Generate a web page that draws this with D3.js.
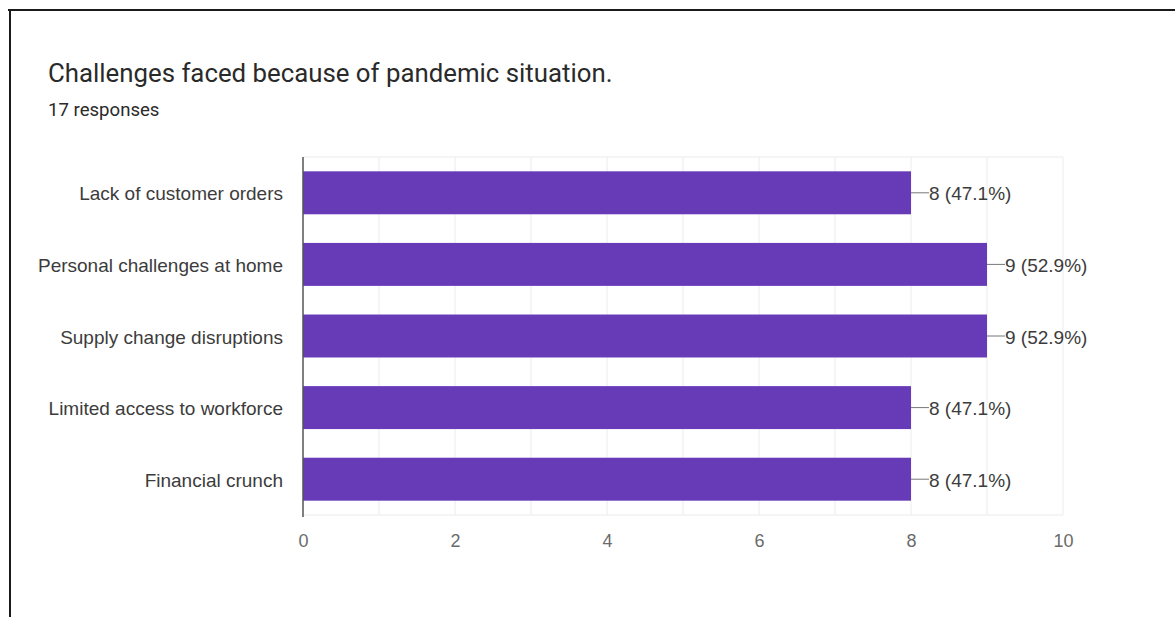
<!DOCTYPE html>
<html>
<head>
<meta charset="utf-8">
<script src="https://cdn.jsdelivr.net/npm/d3@7"></script>
<style>
  html, body { margin: 0; padding: 0; background: #fff; }
  svg { display: block; }
</style>
</head>
<body>
<svg id="chart" width="1175" height="617"></svg>
<script>
// Survey question: challenges faced during the pandemic (17 responses)
const categories = [
  "Lack of customer orders",
  "Personal challenges at home",
  "Supply change disruptions",
  "Limited access to workforce",
  "Financial crunch"
];
const counts = [8, 9, 9, 8, 8];
const totalResponses = 17;
const xTicks = [0, 2, 4, 6, 8, 10];
const gridValues = [1, 2, 3, 4, 5, 6, 7, 8, 9, 10];

const svg = d3.select("#chart");
const W = 1175, H = 617;

// Card frame: dark rule along the top and left edges
svg.append("line").attr("x1", 8).attr("x2", W).attr("y1", 10).attr("y2", 10)
  .attr("stroke", "#1a1a1a").attr("stroke-width", 2);
svg.append("line").attr("x1", 10).attr("x2", 10).attr("y1", 9).attr("y2", H)
  .attr("stroke", "#1a1a1a").attr("stroke-width", 2);

// Heading
svg.append("text").attr("x", 48).attr("y", 82)
  .attr("font-family", "Roboto, 'Open Sans', sans-serif")
  .attr("font-size", 25.8).attr("fill", "#2a2a2a")
  .text("Challenges faced because of pandemic situation.");
svg.append("text").attr("x", 48).attr("y", 116)
  .attr("font-family", "Roboto, 'Open Sans', sans-serif")
  .attr("font-size", 18.6).attr("fill", "#2a2a2a")
  .text(totalResponses + " responses");

// Plot area
const plot = { left: 303, right: 1063, top: 157, bottom: 515 };

const x = d3.scaleLinear().domain([0, 10]).range([plot.left, plot.right]);
const y = d3.scaleBand().domain(categories)
  .range([plot.top, plot.bottom])
  .paddingInner(0.4).paddingOuter(0.2);

const font = "'Liberation Sans', Arial, sans-serif";

// Vertical gridlines plus top and bottom rules
const g = svg.append("g");
g.selectAll("line.grid").data(gridValues).join("line")
  .attr("class", "grid")
  .attr("x1", d => x(d)).attr("x2", d => x(d))
  .attr("y1", plot.top).attr("y2", plot.bottom)
  .attr("stroke", "#ebebeb").attr("stroke-width", 1);
g.append("line")
  .attr("x1", plot.left).attr("x2", plot.right)
  .attr("y1", plot.top).attr("y2", plot.top)
  .attr("stroke", "#ebebeb");
g.append("line")
  .attr("x1", plot.left).attr("x2", plot.right)
  .attr("y1", plot.bottom).attr("y2", plot.bottom)
  .attr("stroke", "#ebebeb");

// Bars
svg.append("g").selectAll("rect").data(categories).join("rect")
  .attr("x", x(0))
  .attr("y", d => y(d))
  .attr("width", (d, i) => x(counts[i]) - x(0))
  .attr("height", y.bandwidth())
  .attr("fill", "#673ab7");

// Baseline axis
svg.append("line")
  .attr("x1", x(0)).attr("x2", x(0))
  .attr("y1", plot.top).attr("y2", plot.bottom + 2)
  .attr("stroke", "#555").attr("stroke-width", 1.5);

// Category labels
const yAxis = svg.append("g")
  .attr("transform", `translate(${plot.left - 20},1.5)`)
  .call(d3.axisLeft(y).tickSize(0).tickPadding(0));
yAxis.select(".domain").remove();
yAxis.selectAll("text")
  .attr("font-family", font).attr("font-size", 19).attr("fill", "#3c3c3c");

// Value axis labels
const xAxis = svg.append("g")
  .attr("transform", `translate(0,${plot.bottom + 1})`)
  .call(d3.axisBottom(x).tickValues(xTicks).tickSize(0).tickPadding(18));
xAxis.select(".domain").remove();
xAxis.selectAll("text")
  .attr("font-family", font).attr("font-size", 18).attr("fill", "#6b6b6b");

// Value annotations with leader lines
const ann = svg.append("g").selectAll("g").data(categories).join("g");
ann.append("line")
  .attr("x1", (d, i) => x(counts[i]))
  .attr("x2", (d, i) => x(counts[i]) + 18)
  .attr("y1", d => y(d) + y.bandwidth() / 2)
  .attr("y2", d => y(d) + y.bandwidth() / 2)
  .attr("stroke", "#777").attr("stroke-width", 1);
ann.append("text")
  .attr("x", (d, i) => x(counts[i]) + 18)
  .attr("y", d => y(d) + y.bandwidth() / 2 + 1)
  .attr("dy", "0.35em")
  .attr("font-family", font).attr("font-size", 19).attr("fill", "#3c3c3c")
  .text((d, i) => `${counts[i]} (${(counts[i] / totalResponses * 100).toFixed(1)}%)`);
</script>
</body>
</html>
